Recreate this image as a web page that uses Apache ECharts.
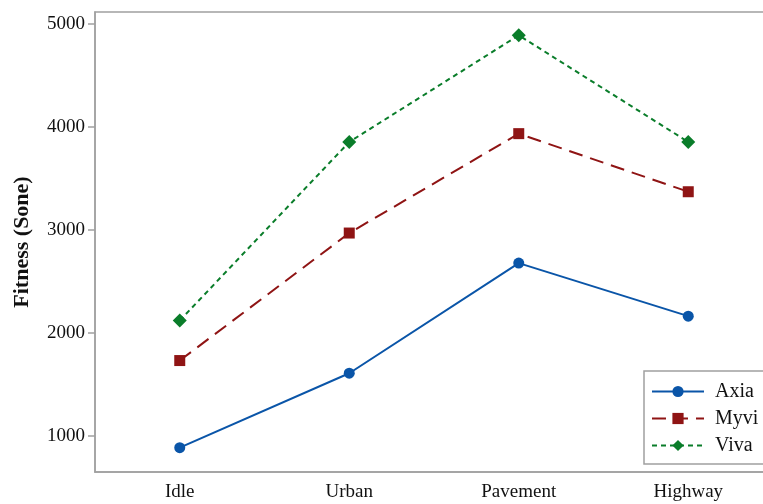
<!DOCTYPE html>
<html>
<head>
<meta charset="utf-8">
<script src="https://cdn.jsdelivr.net/npm/echarts@6/dist/echarts.min.js"></script>
<style>html,body{margin:0;padding:0;background:#fff;overflow:hidden;width:763px;height:504px;}#c{width:773px;height:504px;}</style>
</head>
<body>
<div id="c"></div>
<script>
var categories = ['Idle', 'Urban', 'Pavement', 'Highway'];
var axia = [886, 1609, 2678, 2163];
var myvi = [1732, 2970, 3935, 3371];
var viva = [2120, 3854, 4890, 3854];
var yTicks = [1000, 2000, 3000, 4000, 5000];

var serif = "'Liberation Serif', 'Times New Roman', serif";
var chart = echarts.init(document.getElementById('c'), null, {renderer: 'canvas'});
chart.setOption({
  animation: false,
  backgroundColor: '#ffffff',
  grid: {left: 95, top: 12, right: 0, bottom: 32, show: true, borderColor: '#a0a0a0', borderWidth: 1.5, backgroundColor: 'transparent'},
  xAxis: {
    type: 'category', data: categories, boundaryGap: true,
    axisLine: {lineStyle: {color: '#a0a0a0', width: 1.5}},
    axisTick: {alignWithLabel: true, length: 5, lineStyle: {color: '#a0a0a0', width: 1.5}},
    axisLabel: {color: '#111', fontFamily: serif, fontSize: 19, margin: 11},
    splitLine: {show: false}
  },
  yAxis: {
    type: 'value', min: 650, max: 5116,
    name: 'Fitness (Sone)', nameLocation: 'middle', nameGap: 62,
    nameTextStyle: {fontFamily: serif, fontSize: 22, fontWeight: 'bold', color: '#111'},
    axisLine: {show: true, lineStyle: {color: '#a0a0a0', width: 1.5}},
    axisTick: {show: true, length: 7, lineStyle: {color: '#a0a0a0', width: 1.5},
      customValues: yTicks},
    axisLabel: {color: '#111', fontFamily: serif, fontSize: 19, margin: 10, customValues: yTicks,
      formatter: function (v) { return String(v); }},
    splitLine: {show: false}
  },
  legend: {
    orient: 'vertical', left: 644, top: 371,
    padding: [10, 40, 8, 7],
    itemWidth: 52, itemHeight: 14, itemGap: 6,
    borderColor: '#a0a0a0', borderWidth: 1.5, backgroundColor: '#fff',
    textStyle: {fontFamily: serif, fontSize: 20, color: '#111', lineHeight: 21, padding: [0, 0, 0, 6]},
    data: ['Axia', 'Myvi', 'Viva']
  },
  series: [
    {name: 'Axia', type: 'line', data: axia, symbol: 'circle', symbolSize: 11,
     itemStyle: {color: '#0a55a8'}, lineStyle: {color: '#0a55a8', width: 2, type: 'solid'}},
    {name: 'Myvi', type: 'line', data: myvi, symbol: 'rect', symbolSize: 11,
     itemStyle: {color: '#8f1414'}, lineStyle: {color: '#8f1414', width: 2, type: [14, 8]}},
    {name: 'Viva', type: 'line', data: viva, symbol: 'diamond', symbolSize: 14,
     itemStyle: {color: '#0a7d2a'}, lineStyle: {color: '#0a7d2a', width: 2, type: [5, 4]}}
  ]
});
</script>
</body>
</html>
